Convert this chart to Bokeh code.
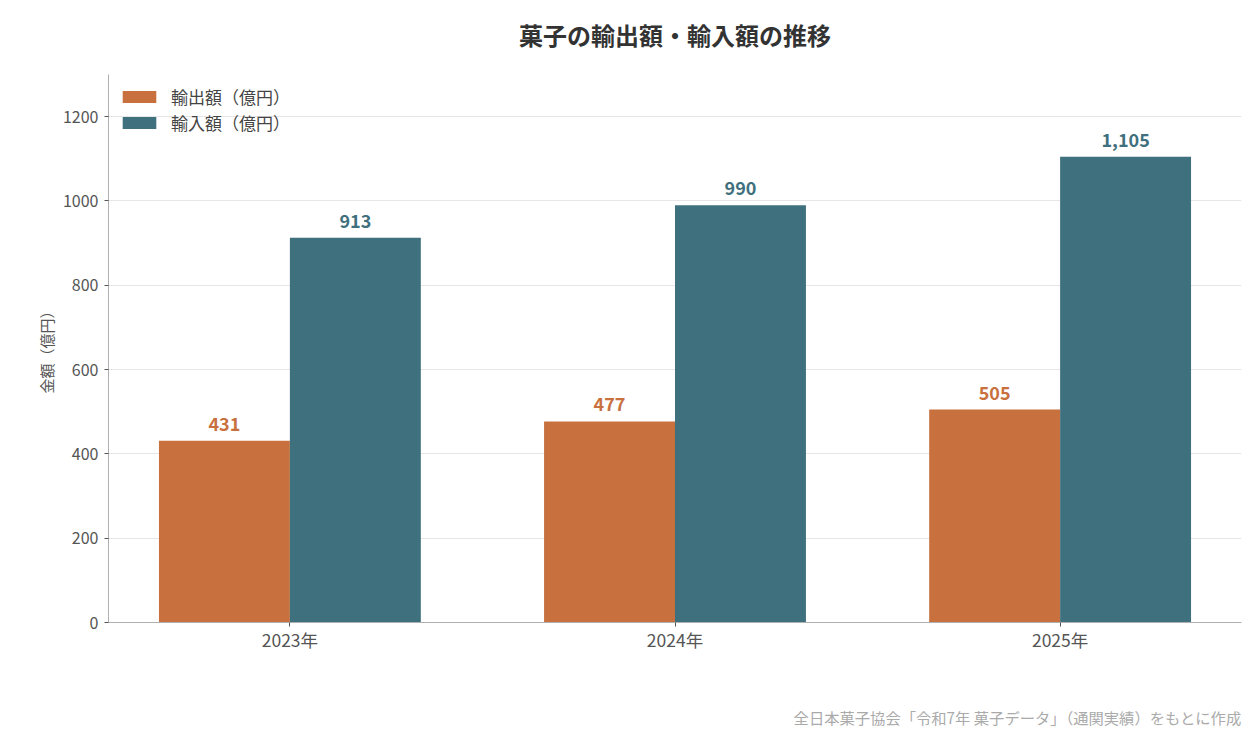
from bokeh.plotting import figure
from bokeh.models import ColumnDataSource, FixedTicker, Range1d, Legend, LegendItem, Title
from bokeh.core.properties import value
from bokeh.embed import file_html
from bokeh.resources import INLINE

years = ["2023年", "2024年", "2025年"]
exports = [431, 477, 505]
imports = [913, 990, 1105]
y_ticks = [0, 200, 400, 600, 800, 1000, 1200]
title_text = "菓子の輸出額・輸入額の推移"
source_text = "全日本菓子協会「令和7年 菓子データ」（通関実績）をもとに作成"
export_name = "輸出額（億円）"
import_name = "輸入額（億円）"
y_label = "金額（億円）"

EXP_COLOR = "#C8713F"
IMP_COLOR = "#3F707E"
FONT = "Noto Sans CJK JP"

xs = list(range(len(years)))
bw = 0.34
src_e = ColumnDataSource(dict(x=[i - bw / 2 for i in xs], top=exports,
                              lab=[f"{v:,}" for v in exports]))
src_i = ColumnDataSource(dict(x=[i + bw / 2 for i in xs], top=imports,
                              lab=[f"{v:,}" for v in imports]))

p = figure(width=1244, height=736, output_backend="svg", toolbar_location=None,
           title_location=None,
           x_range=Range1d(-0.471, 2.471), y_range=Range1d(0, 1300),
           min_border_left=108, min_border_right=3, min_border_top=74, min_border_bottom=114)
p.outline_line_color = None
p.background_fill_color = "white"
p.border_fill_color = "white"

# spacer then main title (later additions sit farther from the frame)
p.add_layout(Title(text=" ", text_font_size="4px", text_font=FONT), "above")
p.add_layout(Title(text=title_text, align="center", text_font=FONT, text_font_size="24px",
                   text_font_style="bold", text_color="#333333"), "above")

r_e = p.vbar(x="x", top="top", width=bw, source=src_e, color=EXP_COLOR, line_color=None)
r_i = p.vbar(x="x", top="top", width=bw, source=src_i, color=IMP_COLOR, line_color=None)

p.text(x="x", y="top", text="lab", source=src_e, text_align="center", text_baseline="bottom",
       y_offset=-10, text_font=value(FONT), text_font_size="18px", text_font_style="bold",
       text_color=EXP_COLOR)
p.text(x="x", y="top", text="lab", source=src_i, text_align="center", text_baseline="bottom",
       y_offset=-10, text_font=value(FONT), text_font_size="18px", text_font_style="bold",
       text_color=IMP_COLOR)

# axes
p.xaxis.ticker = FixedTicker(ticks=xs)
p.xaxis.major_label_overrides = {i: y for i, y in enumerate(years)}
p.yaxis.ticker = FixedTicker(ticks=y_ticks)
for ax in (p.xaxis, p.yaxis):
    ax.axis_line_color = "#b0b0b0"
    ax.major_tick_line_color = "#555555"
    ax.major_tick_out = 4
    ax.major_tick_in = 0
    ax.minor_tick_line_color = None
    ax.major_label_text_font = FONT
    ax.major_label_text_color = "#555555"
p.xaxis.major_label_text_font_size = "17.5px"
p.yaxis.major_label_text_font_size = "16px"
p.xaxis.major_label_standoff = 0
p.yaxis.major_label_standoff = 6
p.yaxis.axis_label = y_label
p.yaxis.axis_label_text_font = FONT
p.yaxis.axis_label_text_font_size = "15px"
p.yaxis.axis_label_text_font_style = "normal"
p.yaxis.axis_label_text_color = "#555555"
p.yaxis.axis_label_standoff = 3

p.xgrid.grid_line_color = None
p.ygrid.grid_line_color = "#e6e6e6"
p.ygrid.grid_line_width = 1

legend = Legend(items=[LegendItem(label=export_name, renderers=[r_e]),
                       LegendItem(label=import_name, renderers=[r_i])],
                location="top_left")
legend.border_line_color = None
legend.background_fill_alpha = 0
legend.margin = 10
legend.padding = 15
legend.glyph_width = 42
legend.glyph_height = 15
legend.label_standoff = 11
legend.label_height = 20
legend.spacing = 1
legend.label_text_font = FONT
legend.label_text_font_size = "17px"
legend.label_text_color = "#444444"
p.add_layout(legend)

# spacer then source note below the x axis
p.add_layout(Title(text=" ", text_font_size="22px", text_font=FONT), "below")
p.add_layout(Title(text=source_text, align="right", text_font=FONT, text_font_size="15.3px",
                   text_font_style="normal", text_color="#aaaaaa"), "below")

open("out.html", "w").write(file_html(p, INLINE))
